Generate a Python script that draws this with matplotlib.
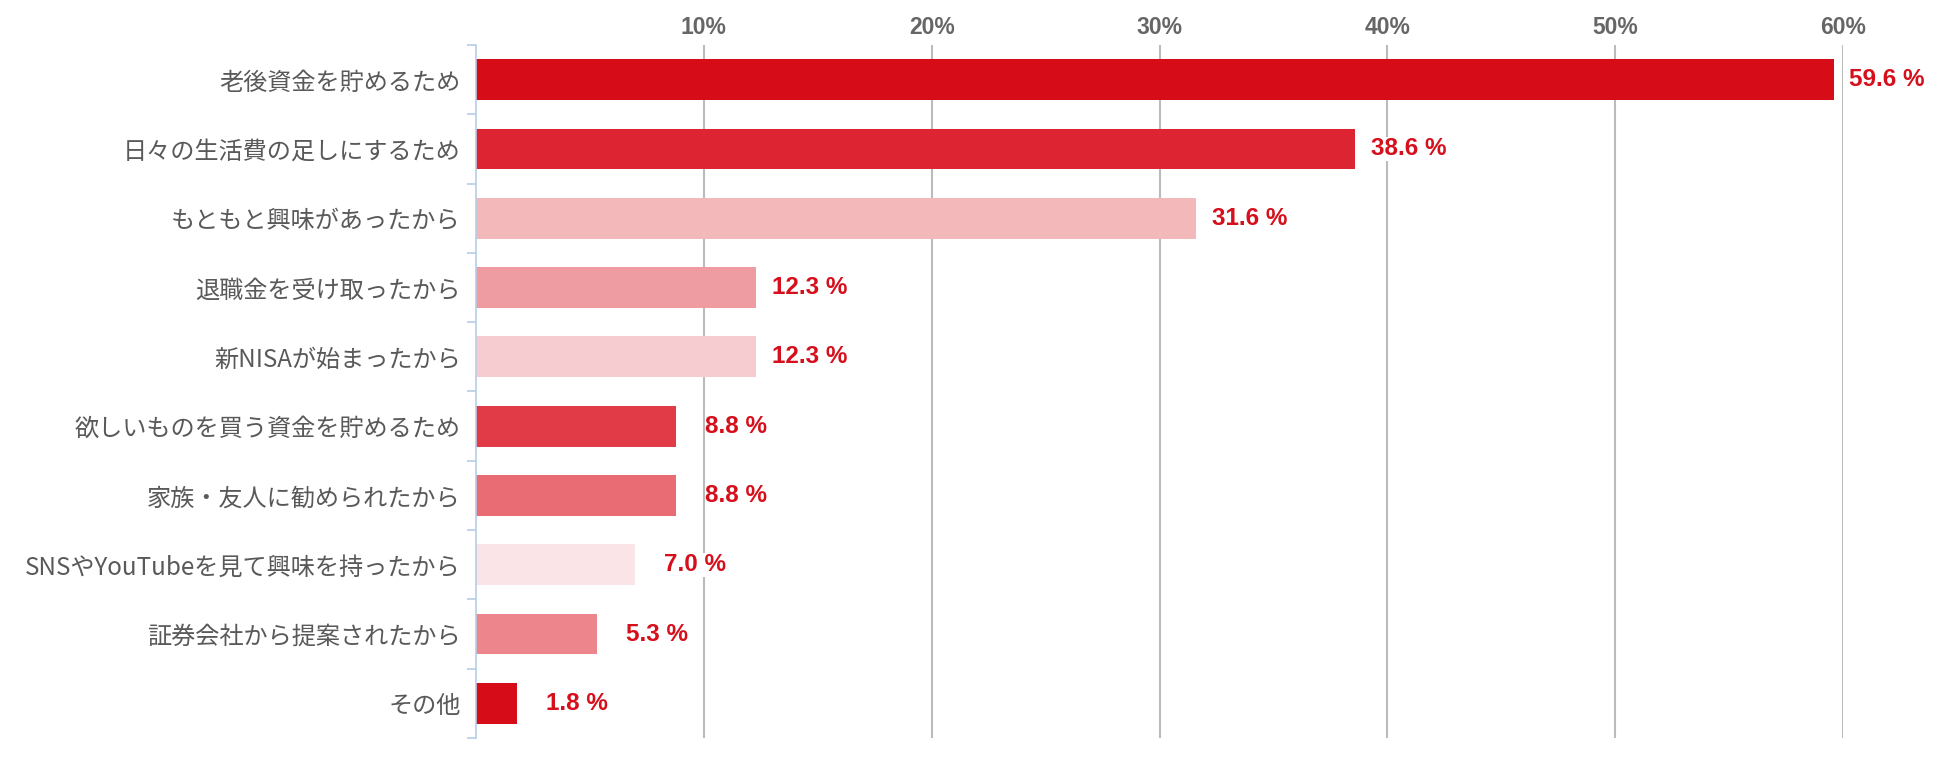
import matplotlib
matplotlib.use('Agg')
import matplotlib.pyplot as plt
from matplotlib.ticker import FixedLocator

# データ
categories = ['老後資金を貯めるため', '日々の生活費の足しにするため', 'もともと興味があったから',
              '退職金を受け取ったから', '新NISAが始まったから', '欲しいものを買う資金を貯めるため',
              '家族・友人に勧められたから', 'SNSやYouTubeを見て興味を持ったから',
              '証券会社から提案されたから', 'その他']
values = [59.6, 38.6, 31.6, 12.3, 12.3, 8.8, 8.8, 7.0, 5.3, 1.8]
colors = ['#d70c19', '#dd2432', '#f2b8ba', '#ee9ca2', '#f7ccd1',
          '#e03b47', '#e96c75', '#fbe4e7', '#ec868c', '#d70c19']
xticks = [10, 20, 30, 40, 50, 60]

plt.rcParams['font.family'] = ['Noto Sans CJK JP', 'DejaVu Sans']

fig = plt.figure(figsize=(19.5, 7.8), dpi=100)
ax = fig.add_axes([476 / 1950, 42 / 780, (1843 - 476) / 1950, (738 - 45) / 780])

y = list(range(len(categories)))
ax.barh(y, values, height=0.59, color=colors, zorder=2)

ax.set_xlim(0, 60)
ax.set_ylim(len(categories) - 0.5, -0.5)

# 上側の目盛り
ax.xaxis.tick_top()
ax.set_xticks(xticks)
ax.set_xticklabels([f'{t}%' for t in xticks], fontfamily='Liberation Sans',
                   fontweight='bold', fontsize=16.5, color='#666666')
ax.tick_params(axis='x', length=0, pad=4)
ax.grid(axis='x', color='#bbbbbb', linewidth=1.5, zorder=1)

# 左側の目盛り（カテゴリ境界に線）
ax.set_yticks(y)
ax.set_yticklabels(categories, fontsize=17.4, color='#595959')
ax.tick_params(axis='y', which='major', length=0, pad=11)
ax.yaxis.set_minor_locator(FixedLocator([i - 0.5 for i in range(len(categories) + 1)]))
ax.tick_params(axis='y', which='minor', length=6.5, width=1.2, color='#b7cde6')

for s in ['top', 'right', 'bottom']:
    ax.spines[s].set_visible(False)
ax.spines['left'].set_color('#b7cde6')
ax.spines['left'].set_linewidth(1.2)

# 値ラベル
for yi, v in zip(y, values):
    ax.annotate(f'{v:.1f} %', xy=(v, yi), xytext=(65.5, 0), textcoords='offset points',
                ha='right', va='center', fontfamily='Liberation Sans', fontweight='bold',
                fontsize=17.5, color='#d50f1b', clip_on=False, zorder=4,
                bbox=dict(facecolor='white', edgecolor='none', pad=0.5))

fig.savefig('out.png', dpi=100, facecolor='white')
